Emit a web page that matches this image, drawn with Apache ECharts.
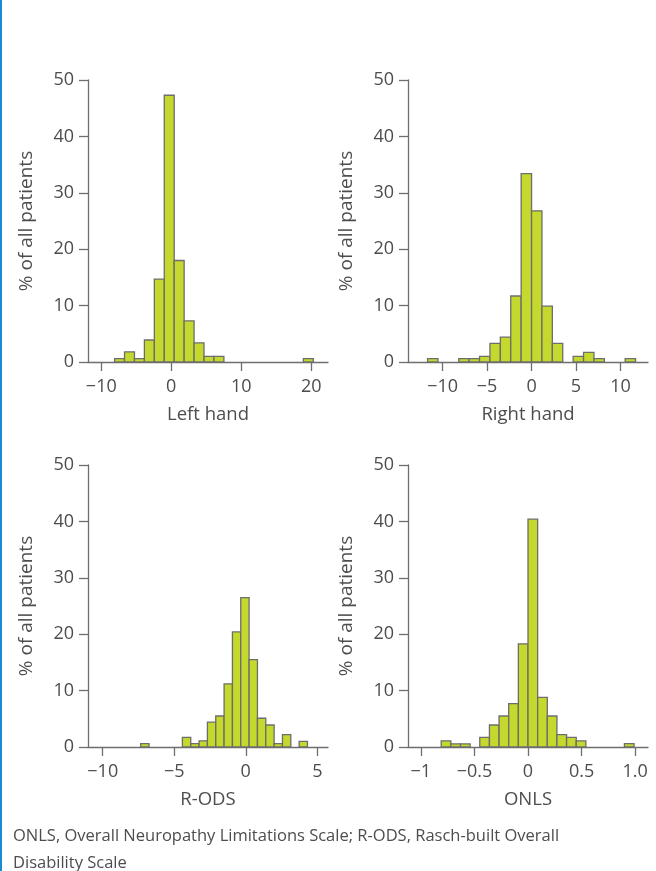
<!DOCTYPE html>
<html>
<head>
<meta charset="utf-8">
<script src="https://cdn.jsdelivr.net/npm/echarts@6/dist/echarts.min.js"></script>
<style>
  html, body { margin: 0; padding: 0; background: #fff; }
  #wrap { position: relative; width: 656px; height: 871px; }
  #edge { position: absolute; left: 0; top: 0; width: 2px; height: 871px; background: #1a8ad4; }
  #chart { position: absolute; left: 0; top: 0; width: 656px; height: 871px; }
</style>
</head>
<body>
<div id="wrap">
  <div id="chart"></div>
  <div id="edge"></div>
</div>
<script>
// histogram data, % of all patients per bin (bins listed from first start, fixed width)
const leftHandStart = -8.1;
const leftHandWidth = 1.42;
const leftHandPct = [0.6, 1.8, 0.6, 3.9, 14.7, 47.3, 18.0, 7.3, 3.4, 1.0, 1.0, 0, 0, 0, 0, 0, 0, 0, 0, 0.6];

const rightHandStart = -11.7;
const rightHandWidth = 1.17;
const rightHandPct = [0.6, 0, 0, 0.6, 0.6, 1.0, 3.3, 4.4, 11.7, 33.4, 26.8, 9.9, 3.3, 0, 1.0, 1.7, 0.6, 0, 0, 0.6];

const rodsStart = -7.345;
const rodsWidth = 0.583;
const rodsPct = [0.6, 0, 0, 0, 0, 1.7, 0.6, 1.1, 4.4, 5.5, 11.2, 20.4, 26.5, 15.5, 5.1, 3.9, 0.6, 2.2, 0, 1.0];

const onlsStart = -0.81;
const onlsWidth = 0.09;
const onlsPct = [1.1, 0.55, 0.55, 0, 1.7, 3.9, 5.5, 7.7, 18.3, 40.4, 8.8, 5.5, 2.2, 1.7, 1.1, 0, 0, 0, 0, 0.6];

const leftHandTicks = [-10, 0, 10, 20];
const rightHandTicks = [-10, -5, 0, 5, 10];
const rodsTicks = [-10, -5, 0, 5];
const onlsTicks = [-1, -0.5, 0, 0.5, 1];
const onlsTickLabels = ["\u22121", "\u22120.5", "0", "0.5", "1.0"];

const panelNames = ["Left hand", "Right hand", "R-ODS", "ONLS"];
const yName = "% of all patients";
const caption = "ONLS, Overall Neuropathy Limitations Scale; R-ODS, Rasch-built Overall\nDisability Scale";

const FONT = "Open Sans";
const TEXT = "#4d4d4f";
const AXIS = "#6d6e70";

function bins(start, width, pct) {
  const out = [];
  pct.forEach((v, i) => {
    if (v > 0) out.push([start + i * width, start + (i + 1) * width, v]);
  });
  return out;
}

function minusSign(v) {
  return String(v).replace("-", "\u2212");
}

const panels = [
  { data: bins(leftHandStart, leftHandWidth, leftHandPct), min: -11.9, max: 22.4, ticks: leftHandTicks },
  { data: bins(rightHandStart, rightHandWidth, rightHandPct), min: -13.9, max: 13.1, ticks: rightHandTicks },
  { data: bins(rodsStart, rodsWidth, rodsPct), min: -11.03, max: 5.75, ticks: rodsTicks },
  { data: bins(onlsStart, onlsWidth, onlsPct), min: -1.12, max: 1.12, ticks: onlsTicks,
    fmt: (v) => onlsTickLabels[onlsTicks.findIndex((t) => Math.abs(t - v) < 1e-9)] },
];

const gridPos = [
  { left: 88, top: 80 },
  { left: 408, top: 80 },
  { left: 88, top: 465 },
  { left: 408, top: 465 },
];

const option = {
  animation: false,
  textStyle: { fontFamily: FONT },
  title: {
    text: caption,
    left: 8,
    top: 818,
    textStyle: { fontFamily: FONT, fontSize: 16.5, fontWeight: "normal", color: TEXT, lineHeight: 27 },
  },
  grid: gridPos.map((p) => ({ left: p.left, top: p.top, width: 240, height: 282 })),
  xAxis: panels.map((p, i) => ({
    type: "value",
    gridIndex: i,
    min: p.min,
    max: p.max,
    name: panelNames[i],
    nameLocation: "middle",
    nameGap: 43,
    nameTextStyle: { fontSize: 18.5, color: TEXT, fontFamily: FONT },
    splitLine: { show: false },
    axisLine: { show: true, onZero: false, lineStyle: { color: AXIS, width: 1.3 } },
    axisTick: { show: true, length: 9, customValues: p.ticks, lineStyle: { color: AXIS, width: 1.3 } },
    axisLabel: {
      customValues: p.ticks,
      margin: 16,
      fontSize: 18,
      color: TEXT,
      fontFamily: FONT,
      formatter: p.fmt || minusSign,
    },
  })),
  yAxis: panels.map((p, i) => ({
    type: "value",
    gridIndex: i,
    min: 0,
    max: 50,
    interval: 10,
    name: yName,
    nameLocation: "middle",
    nameGap: 52,
    nameTextStyle: { fontSize: 19, color: TEXT, fontFamily: FONT },
    splitLine: { show: false },
    axisLine: { show: true, onZero: false, lineStyle: { color: AXIS, width: 1.3 } },
    axisTick: { show: true, length: 9, lineStyle: { color: AXIS, width: 1.3 } },
    axisLabel: { margin: 14, fontSize: 18, color: TEXT, fontFamily: FONT },
  })),
  series: panels.map((p, i) => ({
    type: "custom",
    xAxisIndex: i,
    yAxisIndex: i,
    encode: { x: [0, 1], y: 2 },
    data: p.data,
    renderItem(params, api) {
      const a = api.coord([api.value(0), api.value(2)]);
      const b = api.coord([api.value(1), 0]);
      return {
        type: "rect",
        shape: { x: a[0], y: a[1], width: b[0] - a[0], height: b[1] - a[1] },
        style: { fill: "#c4d82e", stroke: "#6d6d6d", lineWidth: 1.3 },
      };
    },
  })),
};

const chart = echarts.init(document.getElementById("chart"), null, { renderer: "canvas" });
chart.setOption(option);
</script>
</body>
</html>
